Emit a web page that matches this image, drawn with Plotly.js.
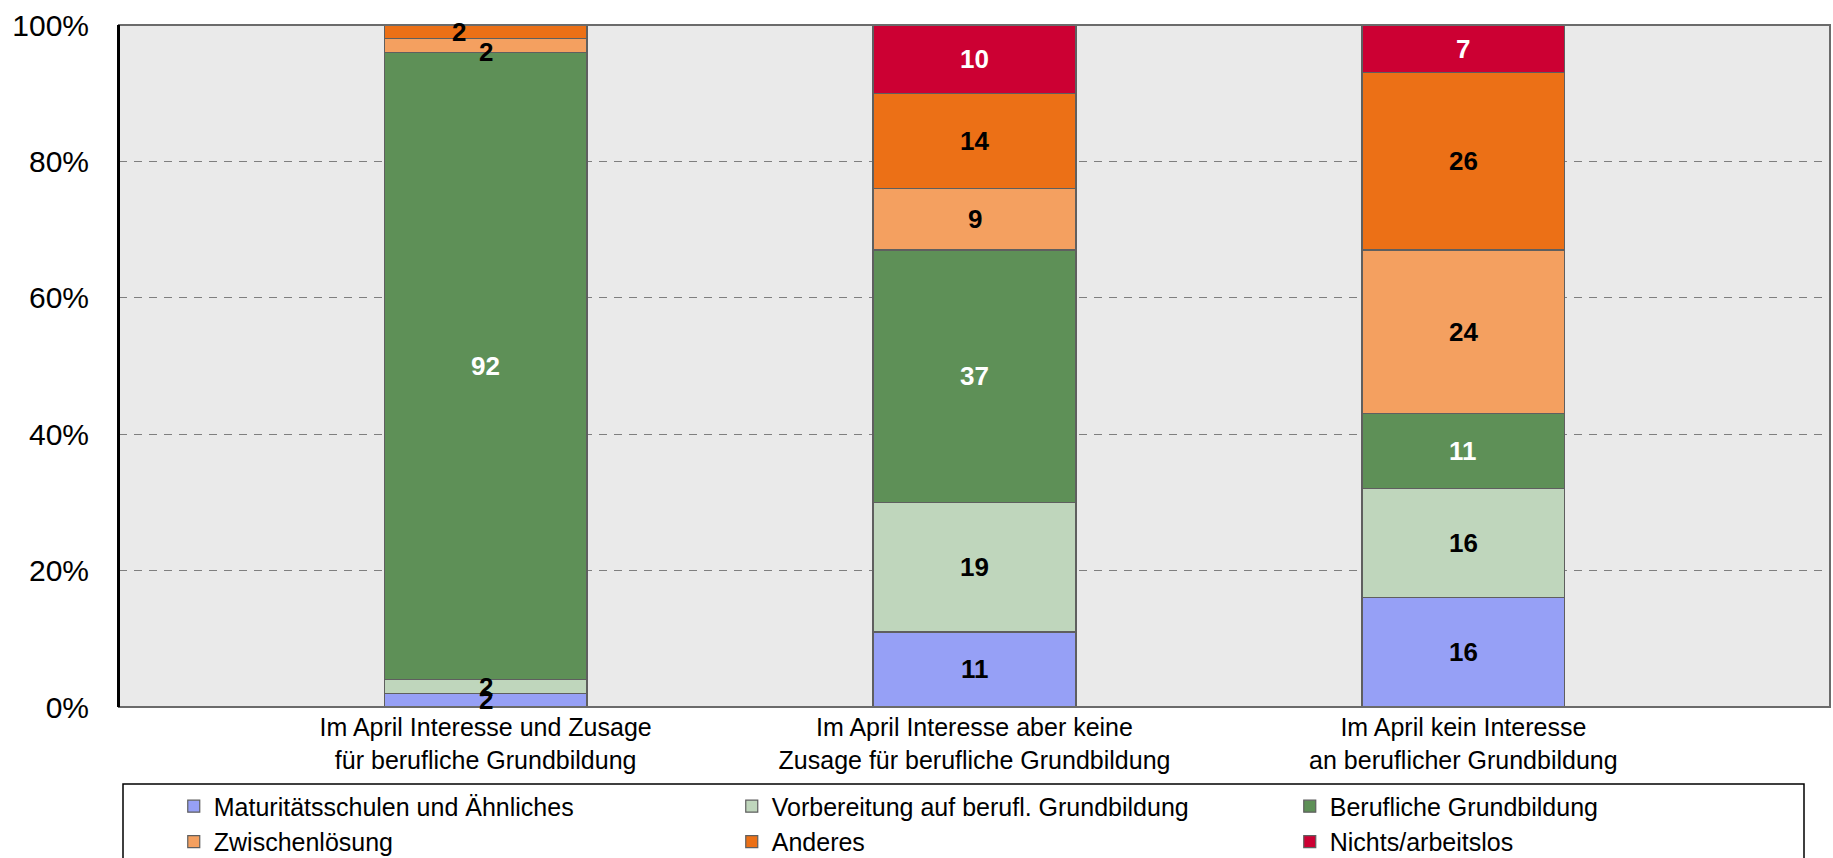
<!DOCTYPE html>
<html>
<head>
<meta charset="utf-8">
<script src="https://cdn.plot.ly/plotly-3.0.1.min.js"></script>
<style>
  html, body { margin: 0; padding: 0; background: #fff; }
  #plot { width: 1833px; height: 858px; }
</style>
</head>
<body>
<div id="plot"></div>
<script>
const categories = [
    'Im April Interesse und Zusage<br>für berufliche Grundbildung',
    'Im April Interesse aber keine<br>Zusage für berufliche Grundbildung',
    'Im April kein Interesse<br>an beruflicher Grundbildung'
];
const seriesNames = [
    'Maturitätsschulen und Ähnliches',
    'Vorbereitung auf berufl. Grundbildung',
    'Berufliche Grundbildung',
    'Zwischenlösung',
    'Anderes',
    'Nichts/arbeitslos'
];
const maturitaet = [2, 11, 16];
const vorbereitung = [2, 19, 16];
const beruflich = [92, 37, 11];
const zwischen = [2, 9, 24];
const anderes = [2, 14, 26];
const nichts = [0, 10, 7];
const yTicks = [0, 20, 40, 60, 80, 100];

const values = [maturitaet, vorbereitung, beruflich, zwischen, anderes, nichts];
const colors = ['#96a0f6', '#bfd6bc', '#5e9057', '#f4a060', '#ec7016', '#cc0033'];
const labelColors = ['#000', '#000', '#fff', '#000', '#000', '#fff'];
// nudges for the crowded labels in the first bar: [series, category, xshift, yshift]
const nudges = [[4, 0, -27, 0], [3, 0, 0, -7]];

const font = 'Liberation Sans, Arial, sans-serif';

let traces = [];
for (let s = 0; s < values.length; s++) {
    traces.push({
        type: 'bar',
        name: seriesNames[s],
        x: categories,
        y: values[s],
        width: 0.415,
        marker: {color: colors[s], line: {color: '#5f5f5f', width: 1.2}},
        hoverinfo: 'name+y'
    });
}

// value labels in the middle of each segment
let annotations = [];
let base = [0, 0, 0];
for (let s = 0; s < values.length; s++) {
    for (let c = 0; c < categories.length; c++) {
        let v = values[s][c];
        if (v > 0) {
            let a = {
                x: categories[c], y: base[c] + v / 2,
                xref: 'x', yref: 'y',
                text: '<b>' + v + '</b>',
                showarrow: false,
                font: {family: font, size: 26, color: labelColors[s]}
            };
            nudges.forEach(n => {
                if (n[0] === s && n[1] === c) { a.xshift = n[2]; a.yshift = n[3]; }
            });
            annotations.push(a);
        }
        base[c] += v;
    }
}

let layout = {
    width: 1833,
    height: 858,
    margin: {l: 119, r: 3, t: 25, b: 151, autoexpand: false},
    paper_bgcolor: '#fff',
    plot_bgcolor: '#eaeaea',
    barmode: 'stack',
    showlegend: true,
    font: {family: font, color: '#000'},
    xaxis: {
        type: 'category',
        range: [-0.75, 2.75],
        showgrid: false,
        showline: false,
        zeroline: false,
        ticks: '',
        ticklabelstandoff: 3,
        tickfont: {size: 25, family: font, color: '#000'},
        fixedrange: true
    },
    yaxis: {
        range: [0, 100],
        tickvals: yTicks,
        ticktext: yTicks.map(t => t + '%'),
        showgrid: true,
        gridcolor: '#7f7f7f',
        gridwidth: 1,
        griddash: '8px,7px',
        zeroline: false,
        showline: true,
        linecolor: '#000',
        linewidth: 2,
        ticks: '',
        ticklabelstandoff: 22,
        tickfont: {size: 30, family: font, color: '#000'},
        fixedrange: true
    },
    legend: {
        orientation: 'h',
        x: 0.032,
        xanchor: 'left',
        y: -0.112,
        yanchor: 'top',
        entrywidth: 513,
        entrywidthmode: 'pixels',
        traceorder: 'normal',
        font: {size: 25, family: font, color: '#000'},
        bgcolor: 'rgba(0,0,0,0)',
        borderwidth: 0
    },
    shapes: [
        // plot frame
        {type: 'rect', xref: 'paper', yref: 'paper', x0: 0, x1: 1, y0: 0, y1: 1,
         line: {color: '#6b6b6b', width: 2}, layer: 'above'},
        {type: 'line', xref: 'paper', yref: 'paper', x0: 0, x1: 0, y0: 0, y1: 1,
         line: {color: '#000', width: 2}, layer: 'above'},
        // legend box
        {type: 'rect', xref: 'paper', yref: 'paper',
         x0: 4 / 1711, x1: 1685 / 1711, y0: -230 / 682, y1: -77 / 682,
         line: {color: '#000', width: 1.5}, layer: 'above'}
    ],
    annotations
};

Plotly.newPlot('plot', traces, layout, {displayModeBar: false, staticPlot: true});
</script>
</body>
</html>
